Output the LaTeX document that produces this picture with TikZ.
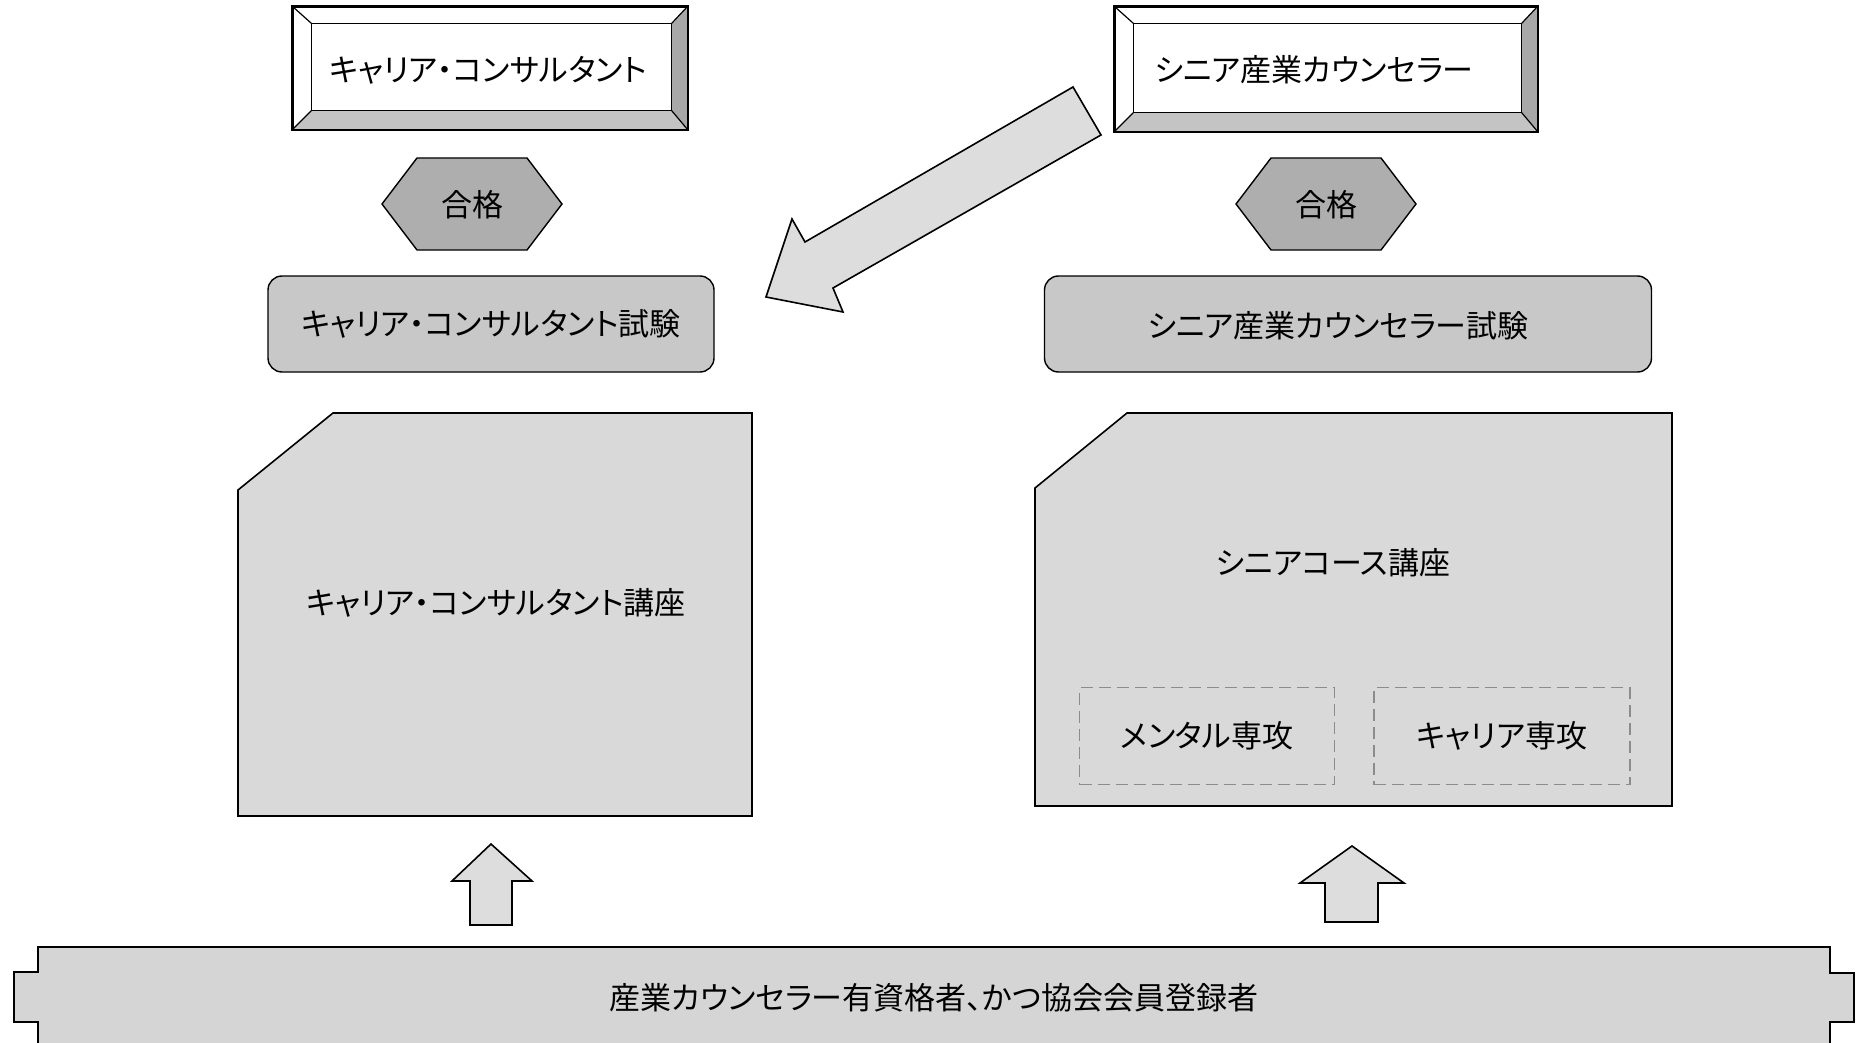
\documentclass[tikz,border=0pt]{standalone}
\usepackage{fontspec}
\setmainfont{Noto Sans CJK JP}[RawFeature=+palt]
\usetikzlibrary{calc}
\definecolor{boxgray}{HTML}{D9D9D9}
\definecolor{examgray}{HTML}{C8C8C8}
\definecolor{hexgray}{HTML}{AEAEAE}
\definecolor{bargray}{HTML}{D5D5D5}
\definecolor{arrowgray}{HTML}{DDDDDD}
\definecolor{dashgray}{HTML}{8C8C8C}
\definecolor{bevelright}{HTML}{A8A8A8}
\definecolor{bevelbottom}{HTML}{C4C4C4}
\tikzset{
  txt/.style={font=\fontsize{31}{37}\selectfont, inner sep=0pt},
  bevelbox/.style={draw, line width=1.6, fill=white, txt},
  hexfill/.style={fill=hexgray, draw, line width=1.4, line join=miter},
  examstyle/.style={draw, line width=1.4, fill=examgray, rounded corners=14, txt},
  coursefill/.style={fill=boxgray, draw, line width=1.6, line join=miter},
  majorbox/.style={draw=dashgray, dash pattern=on 12pt off 6pt, line width=1.4, txt},
  blockarrow/.style={fill=arrowgray, draw, line width=1.6, line join=miter},
  basebar/.style={fill=bargray, draw, line width=1.8, line join=miter},
}
\newcommand\bevelframe[1]{%
  \coordinate (#1-o1) at (#1.north west);
  \coordinate (#1-o2) at (#1.north east);
  \coordinate (#1-o3) at (#1.south east);
  \coordinate (#1-o4) at (#1.south west);
  \coordinate (#1-i1) at ($(#1.north west)+(19,17)$);
  \coordinate (#1-i2) at ($(#1.north east)+(-16,17)$);
  \coordinate (#1-i3) at ($(#1.south east)+(-16,-19)$);
  \coordinate (#1-i4) at ($(#1.south west)+(19,-19)$);
  \fill[bevelright] (#1-o2) -- (#1-o3) -- (#1-i3) -- (#1-i2) -- cycle;
  \fill[bevelbottom] (#1-o3) -- (#1-o4) -- (#1-i4) -- (#1-i3) -- cycle;
  \draw[line width=1.8] (#1-o1) -- (#1-o2) -- (#1-o3) -- (#1-o4) -- cycle;
  \draw[line width=1.2] (#1-i1) -- (#1-i2) -- (#1-i3) -- (#1-i4) -- cycle;
  \draw[line width=1.2] (#1-o1) -- (#1-i1) (#1-o2) -- (#1-i2) (#1-o3) -- (#1-i3) (#1-o4) -- (#1-i4);
}
\newcommand\hexshape[2]{%
  \draw[hexfill] (#1-90,#2) -- (#1-55,#2-46) -- (#1+55,#2-46) -- (#1+90,#2) -- (#1+55,#2+46) -- (#1-55,#2+46) -- cycle;
}
\begin{document}
\begin{tikzpicture}[x=1pt,y=-1pt]
\useasboundingbox (0,0) rectangle (1866,1043);
\clip (0,0) rectangle (1866,1043);
\fill[white] (0,0) rectangle (1866,1043);

% top title boxes
\node[bevelbox, minimum width=394, minimum height=122] (t1) at (490,68) {};
\bevelframe{t1}
\node[txt] (t1text) at (488,70) {キャリア・コンサルタント};
\node[bevelbox, minimum width=422, minimum height=124] (t2) at (1326,69) {};
\bevelframe{t2}
\node[txt] (t2text) at (1314,70) {シニア産業カウンセラー};

% pass hexagons
\hexshape{472}{204}
\node[txt] (p1) at (472,205) {合格};
\hexshape{1326}{204}
\node[txt] (p2) at (1326,205) {合格};

% exams
\node[examstyle, minimum width=446, minimum height=96] (e1) at (491,324) {キャリア・コンサルタント試験};
\node[examstyle, minimum width=607, minimum height=96] (e2) at (1348,324) {};
\node[txt] (e2text) at (1338,326) {シニア産業カウンセラー試験};

% courses
\draw[coursefill] (333,413) -- (752,413) -- (752,816) -- (238,816) -- (238,490) -- cycle;
\node[txt] (c1) at (496,603) {キャリア・コンサルタント講座};
\draw[coursefill] (1127,413) -- (1672,413) -- (1672,806) -- (1035,806) -- (1035,488) -- cycle;
\node[txt] (c2) at (1333,563) {シニアコース講座};
\node[majorbox, minimum width=255, minimum height=97] (m1) at (1207,736) {メンタル専攻};
\node[majorbox, minimum width=256, minimum height=97] (m2) at (1502,736) {キャリア専攻};

% diagonal arrow
\draw[blockarrow] (1073,87) -- (805,242) -- (792,219) -- (766,297) -- (843,312) -- (833,288) -- (1101,135) -- cycle;

% up arrows
\draw[blockarrow] (470,925) -- (470,881) -- (452,881) -- (491,844) -- (532,881) -- (512,881) -- (512,925) -- cycle;
\draw[blockarrow] (1325,922) -- (1325,883) -- (1300,883) -- (1352,846) -- (1404,883) -- (1378,883) -- (1378,922) -- cycle;

% base bar
\draw[basebar] (38,1060) -- (38,1022) -- (14,1022) -- (14,972) -- (38,972) -- (38,947) -- (1830,947) -- (1830,973) -- (1854,973) -- (1854,1022) -- (1830,1022) -- (1830,1060);
\node[txt] (base) at (934,998) {産業カウンセラー有資格者、かつ協会会員登録者};
\end{tikzpicture}
\end{document}
